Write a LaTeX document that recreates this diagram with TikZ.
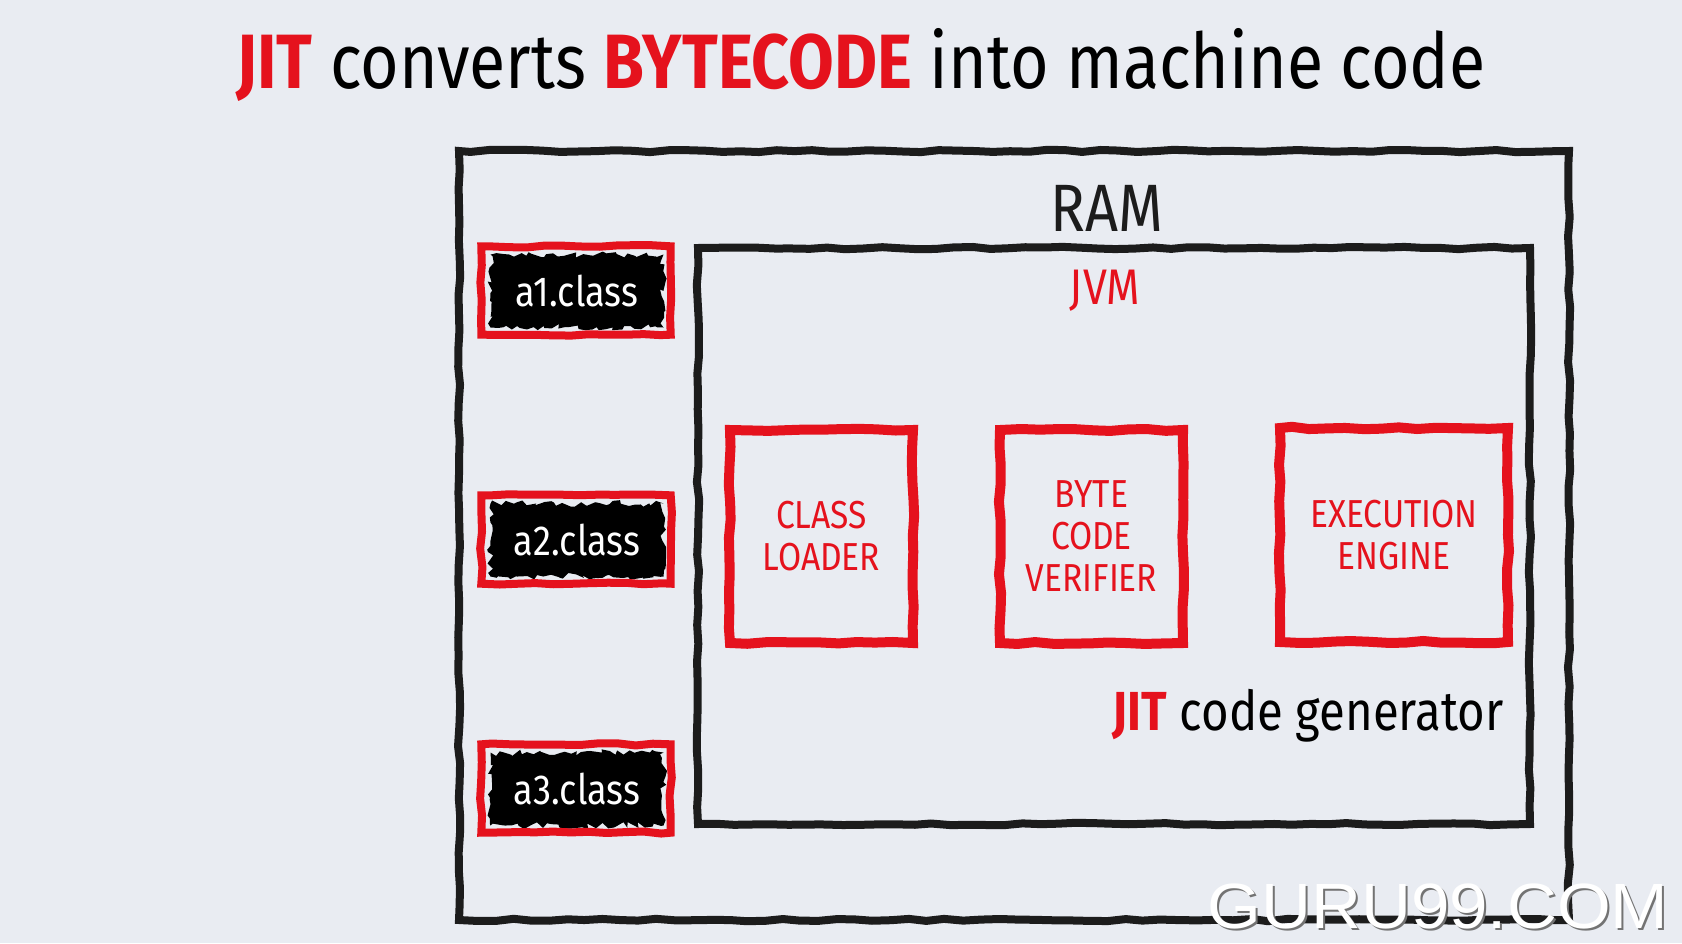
\documentclass[tikz,border=0pt]{standalone}
\usepackage{fontspec}
\setmainfont{Fira Sans}[FakeStretch=0.86]
\newfontfamily\markfont{Liberation Sans}[FakeStretch=1.08]
\usetikzlibrary{decorations.pathmorphing}
\definecolor{paper}{HTML}{E9ECF2}
\definecolor{inkred}{HTML}{E5121D}
\definecolor{ink}{HTML}{1C1C1C}

\begin{document}
\begin{tikzpicture}[x=1pt, y=-1pt]
  \tikzstyle{sketch}=[decorate, decoration={random steps, segment length=18pt, amplitude=1.2pt}]
  \tikzstyle{frame}=[sketch, draw=ink, line width=8pt, inner sep=0pt]
  \tikzstyle{part}=[sketch, draw=inkred, line width=10pt, inner sep=0pt,
    align=center, text=inkred, font=\fontsize{39}{42}\selectfont]
  \tikzstyle{classfile}=[decorate, decoration={random steps, segment length=5pt,
    amplitude=3.5pt}, fill=black, text=white, minimum width=173pt,
    minimum height=73pt, inner sep=0pt, font=\fontsize{42}{44}\selectfont]
  \tikzstyle{fileframe}=[sketch, draw=inkred, line width=8pt]
  \tikzstyle{watermark}=[anchor=base west, font=\markfont\fontsize{64}{66}\selectfont]
  \pgfmathsetseed{99}

  % background
  \fill[paper] (0,0) rectangle (1682,943);
  \useasboundingbox (0,0) rectangle (1682,943);

  % heading
  \node[anchor=base west, font=\fontsize{77}{80}\selectfont] (title) at (233,88)
    {\textcolor{inkred}{\bfseries JIT} converts \textcolor{inkred}{\bfseries BYTECODE} into machine code};

  % ram and jvm
  \node[frame, minimum width=1110pt, minimum height=769pt] (ram) at (1014,535.5) {};
  \node[anchor=base, font=\fontsize{67}{70}\selectfont, text=ink] (ramlabel) at (1107,231) {RAM};
  \node[frame, minimum width=832pt, minimum height=576pt] (jvm) at (1114,536) {};
  \node[anchor=base, font=\fontsize{50}{52}\selectfont, text=inkred] (jvmlabel) at (1105,304) {JVM};

  % class files
  \node[classfile] (a1) at (577,291) {a1.class};
  \node[classfile] (a2) at (577,540) {a2.class};
  \node[classfile] (a3) at (577,789) {a3.class};
  \draw[fileframe] ([shift={(-9,-8)}]a1.north west) rectangle ([shift={(7,7)}]a1.south east);
  \draw[fileframe] ([shift={(-9,-8)}]a2.north west) rectangle ([shift={(7,7)}]a2.south east);
  \draw[fileframe] ([shift={(-9,-8)}]a3.north west) rectangle ([shift={(7,7)}]a3.south east);

  % jvm parts
  \node[part, minimum width=183pt, minimum height=213pt] (loader) at (821.5,536.5) {CLASS\\LOADER};
  \node[part, minimum width=183pt, minimum height=213pt] (verifier) at (1091.5,536.5) {BYTE\\CODE\\VERIFIER};
  \node[part, minimum width=228pt, minimum height=214pt] (engine) at (1394,535) {EXECUTION\\ENGINE};

  \node[anchor=base east, font=\fontsize{55}{58}\selectfont] (jitgen) at (1507,730)
    {\textcolor{inkred}{\bfseries JIT} code generator};

  % watermark
  \node[watermark, text=black!55] (markshadow) at (1206,930) {GURU99.COM};
  \node[watermark, text=white] (markface) at (1204,928) {GURU99.COM};
\end{tikzpicture}
\end{document}
